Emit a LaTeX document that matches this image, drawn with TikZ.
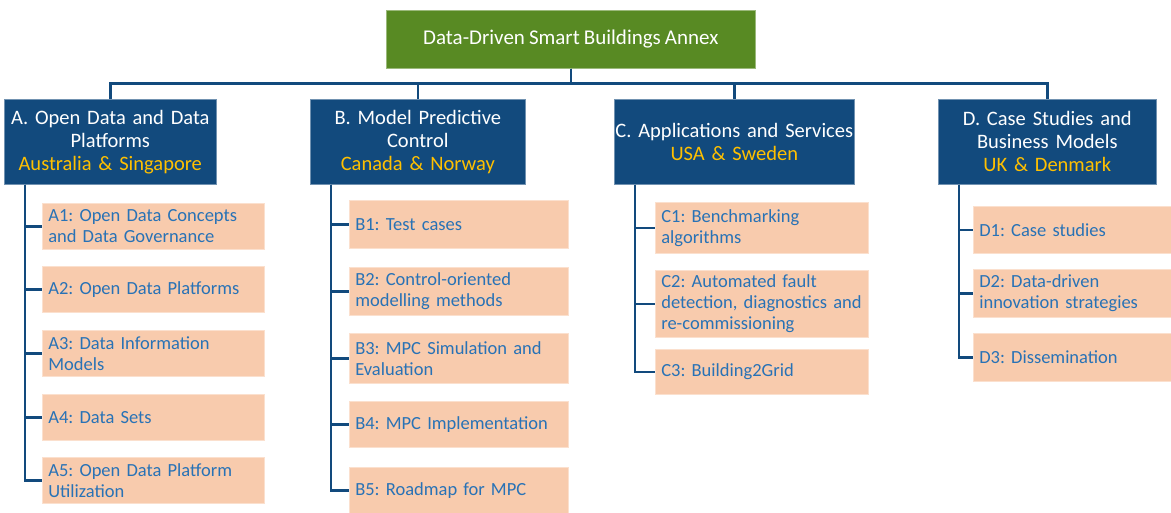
\documentclass[tikz,border=0pt]{standalone}
\usepackage{fontspec}
\setmainfont{Carlito}[WordSpace=0.85]
\definecolor{rootgreen}{RGB}{88,138,35}
\definecolor{hdrblue}{RGB}{18,74,125}
\definecolor{gold}{RGB}{255,192,0}
\definecolor{peach}{RGB}{248,203,173}
\definecolor{subtext}{RGB}{40,114,182}
\frenchspacing
\begin{document}
\begin{tikzpicture}[x=1pt,y=-1pt,
  rootbox/.style={anchor=north west, fill=rootgreen, draw=rootgreen!60!white, line width=0.6pt, text=white,
    minimum width=369pt, minimum height=58pt, font=\fontsize{21}{24}\selectfont},
  hdr/.style={anchor=north west, fill=hdrblue, draw=hdrblue!60!white, line width=0.6pt, text=white, align=center,
    minimum height=85pt, inner xsep=1pt, font=\fontsize{20.5}{23}\selectfont},
  sub/.style={anchor=north west, fill=peach, draw=peach!60!white, line width=0.6pt, text=subtext, align=left,
    inner xsep=6pt, font=\fontsize{18.5}{21}\selectfont},
  conn/.style={draw=hdrblue, line width=2.4pt}]
\useasboundingbox (0,0) rectangle (1171,512);

\node[rootbox] (root) at (386,10) {Data-Driven Smart Buildings Annex};

\node[hdr, text width=210pt] (A) at (4,99) {A. Open Data and Data\\Platforms\\\textcolor{gold}{Australia \& Singapore}};
\node[hdr, text width=213pt] (B) at (310,99) {B. Model Predictive\\Control\\\textcolor{gold}{Canada \& Norway}};
\node[hdr, text width=238pt] (C) at (614,99) {\mbox{C. Applications and Services}\\\textcolor{gold}{USA \& Sweden}};
\node[hdr, text width=216pt] (D) at (938,99) {D. Case Studies and\\Business Models\\\textcolor{gold}{UK \& Denmark}};

\draw[conn] (root.south) -- ++(0,15) -| (A.north);
\draw[conn] (root.south) -- ++(0,15) -| (B.north);
\draw[conn] (root.south) -- ++(0,15) -| (C.north);
\draw[conn] (root.south) -- ++(0,15) -| (D.north);

\node[sub, text width=210pt, minimum height=46pt] (A1) at (42,203) {A1: Open Data Concepts\\and Data Governance};
\node[sub, text width=210pt, minimum height=46pt] (A2) at (42,266) {A2: Open Data Platforms};
\node[sub, text width=210pt, minimum height=46pt] (A3) at (42,330) {A3: Data Information\\Models};
\node[sub, text width=210pt, minimum height=46pt] (A4) at (42,394) {A4: Data Sets};
\node[sub, text width=210pt, minimum height=46pt] (A5) at (42,457) {A5: Open Data Platform\\Utilization};

\node[sub, text width=207pt, minimum height=48pt] (B1) at (349,200) {B1: Test cases};
\node[sub, text width=207pt, minimum height=48pt] (B2) at (349,267) {B2: Control-oriented\\modelling methods};
\node[sub, text width=207pt, minimum height=50pt] (B3) at (349,333) {B3: MPC Simulation and\\Evaluation};
\node[sub, text width=207pt, minimum height=46pt] (B4) at (349,401) {B4: MPC Implementation};
\node[sub, text width=207pt, minimum height=46pt] (B5) at (349,467) {B5: Roadmap for MPC};

\node[sub, text width=201pt, minimum height=51pt] (C1) at (655,202) {C1: Benchmarking\\algorithms};
\node[sub, text width=201pt, minimum height=67pt] (C2) at (655,270) {C2: Automated fault\\\mbox{detection, diagnostics and}\\re-commissioning};
\node[sub, text width=201pt, minimum height=45pt] (C3) at (655,349) {C3: Building2Grid};

\node[sub, text width=186pt, minimum height=47pt] (D1) at (973,206) {D1: Case studies};
\node[sub, text width=186pt, minimum height=48pt] (D2) at (973,269) {D2: Data-driven\\innovation strategies};
\node[sub, text width=186pt, minimum height=48pt] (D3) at (973,333) {D3: Dissemination};

\foreach \h/\c in {A/A1,A/A2,A/A3,A/A4,A/A5,B/B1,B/B2,B/B3,B/B4,B/B5,C/C1,C/C2,C/C3,D/D1,D/D2,D/D3}
  \draw[conn] ([xshift=21pt]\h.south west) |- (\c.west);
\end{tikzpicture}
\end{document}
